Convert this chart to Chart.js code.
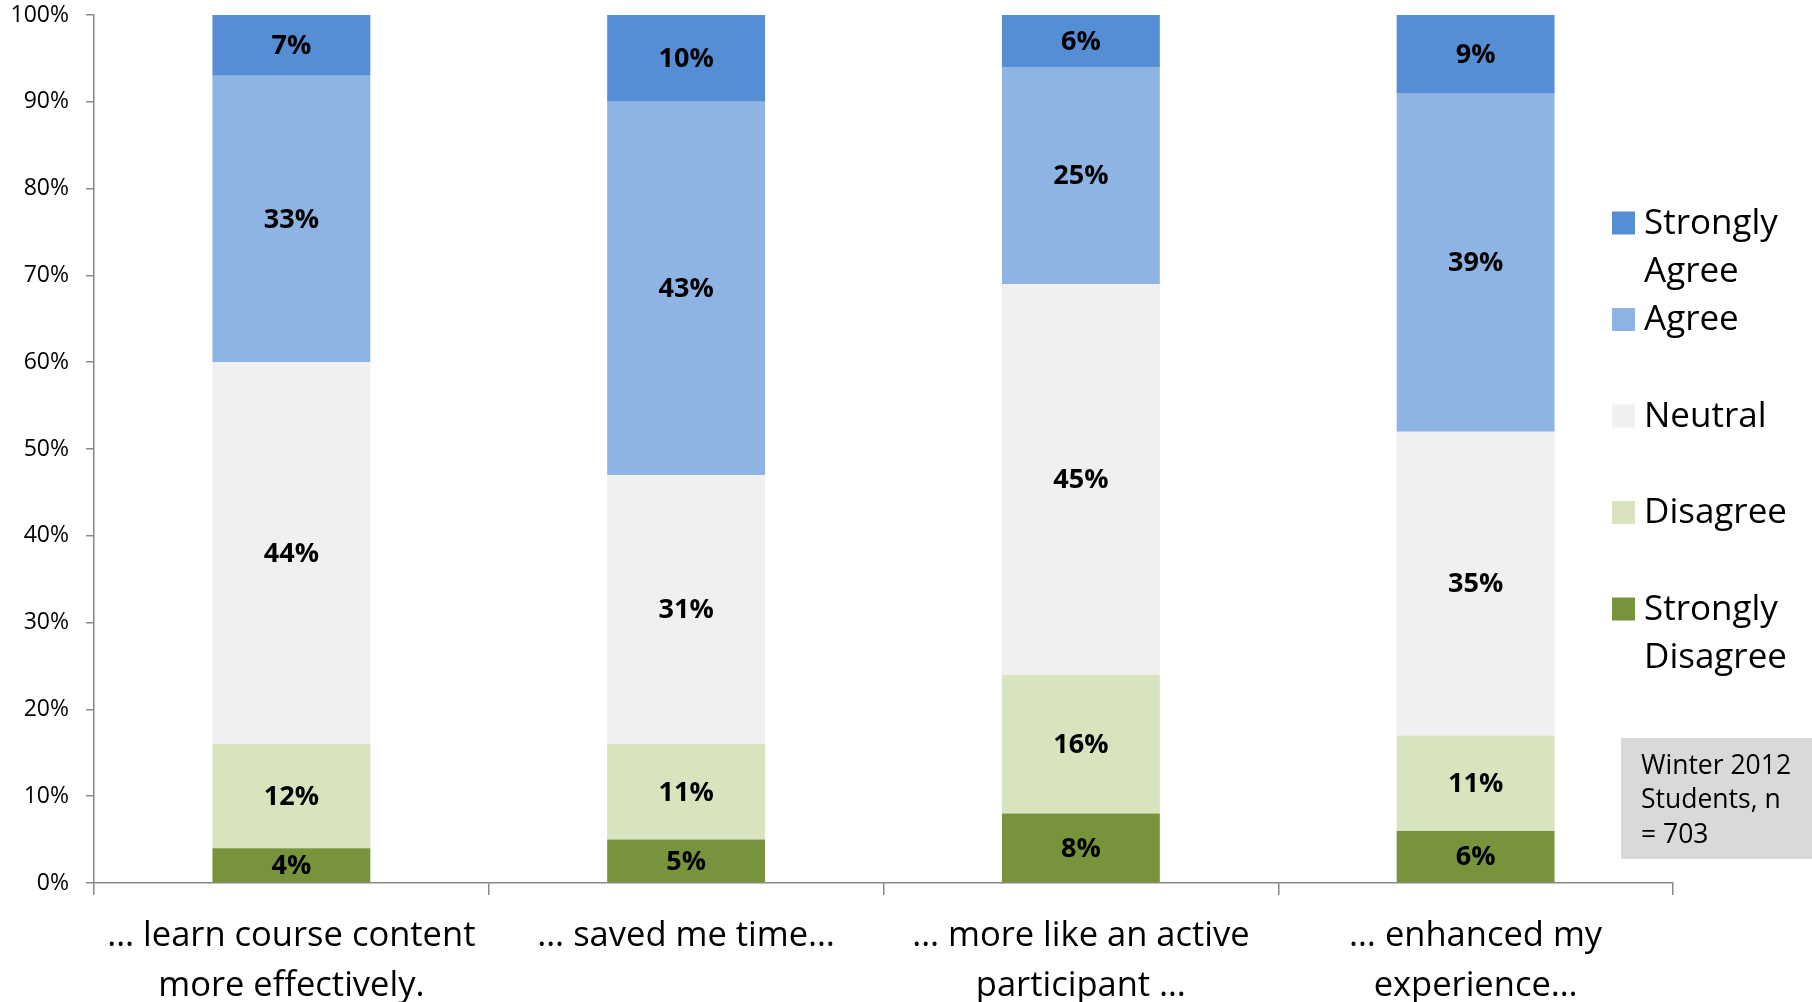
<!DOCTYPE html>
<html>
<head>
<meta charset="utf-8">
<script src="https://cdn.jsdelivr.net/npm/chart.js@4/dist/chart.umd.min.js"></script>
<style>
  html, body { margin: 0; padding: 0; background: #ffffff; }
  #wrap { width: 1812px; height: 1002px; position: relative; }
</style>
</head>
<body>
<div id="wrap"><canvas id="c" width="1812" height="1002"></canvas></div>
<script>
// Survey statements (x-axis categories, wrapped onto lines)
const categories = [
  ['… learn course content', 'more effectively.'],
  ['… saved me time…'],
  ['… more like an active', 'participant …'],
  ['… enhanced my', 'experience…']
];

// Share of responses per statement, in percent
const stronglyDisagree = [4, 5, 8, 6];
const disagree         = [12, 11, 16, 11];
const neutral          = [44, 31, 45, 35];
const agree            = [33, 43, 25, 39];
const stronglyAgree    = [7, 10, 6, 9];

const seriesNames  = ['Strongly Disagree', 'Disagree', 'Neutral', 'Agree', 'Strongly Agree'];
const seriesColors = ['#77933C', '#D7E4BD', '#F0F0F0', '#8EB4E3', '#558ED5'];
const seriesValues = [stronglyDisagree, disagree, neutral, agree, stronglyAgree];

// Y-axis tick values (percent)
const yTickValues = [0, 10, 20, 30, 40, 50, 60, 70, 80, 90, 100];

// Sample note
const noteLines = ['Winter 2012', 'Students, n', '= 703'];

const FONT = '"Open Sans", "DejaVu Sans", sans-serif';

// Percent label in the middle of every stacked segment
const segmentLabels = {
  id: 'segmentLabels',
  afterDatasetsDraw(chart) {
    const ctx = chart.ctx;
    ctx.save();
    ctx.font = 'bold 27px ' + FONT;
    ctx.fillStyle = '#000000';
    ctx.textAlign = 'center';
    ctx.textBaseline = 'middle';
    chart.data.datasets.forEach((ds, i) => {
      const meta = chart.getDatasetMeta(i);
      meta.data.forEach((bar, j) => {
        const p = bar.getProps(['x', 'y', 'base'], true);
        ctx.fillText(ds.data[j] + '%', p.x, (p.y + p.base) / 2 + 1);
      });
    });
    ctx.restore();
  }
};

// Legend on the right, top item = top of the stack
const sideLegend = {
  id: 'sideLegend',
  afterDraw(chart) {
    const ctx = chart.ctx;
    const boxX = 1612, boxSize = 23, textX = 1644;
    const firstY = 224, step = 96.5, lineH = 48, maxW = 180;
    ctx.save();
    ctx.font = '35px ' + FONT;
    ctx.textBaseline = 'middle';
    ctx.textAlign = 'left';
    const order = chart.data.datasets.map((d, i) => i).reverse();
    order.forEach((di, k) => {
      const ds = chart.data.datasets[di];
      const cy = firstY + k * step;
      ctx.fillStyle = ds.backgroundColor;
      ctx.fillRect(boxX, cy - boxSize / 2 - 1, boxSize, boxSize);
      // simple word wrap
      const words = ds.label.split(' ');
      const lines = [];
      let cur = '';
      words.forEach(w => {
        const t = cur ? cur + ' ' + w : w;
        if (cur && ctx.measureText(t).width > maxW) { lines.push(cur); cur = w; }
        else cur = t;
      });
      if (cur) lines.push(cur);
      ctx.fillStyle = '#000000';
      lines.forEach((ln, li) => ctx.fillText(ln, textX, cy + li * lineH));
    });
    ctx.restore();
  }
};

// Grey note box in the lower right corner
const noteBox = {
  id: 'noteBox',
  afterDraw(chart) {
    const ctx = chart.ctx;
    ctx.save();
    ctx.fillStyle = '#D9D9D9';
    ctx.fillRect(1621, 738, 191, 121);
    ctx.fillStyle = '#000000';
    ctx.font = '26.5px ' + FONT;
    ctx.textAlign = 'left';
    ctx.textBaseline = 'middle';
    noteLines.forEach((t, i) => ctx.fillText(t, 1641, 766 + i * 34.5));
    ctx.restore();
  }
};

const datasets = seriesNames.map((name, i) => ({
  label: name,
  data: seriesValues[i],
  backgroundColor: seriesColors[i],
  borderWidth: 0,
  barPercentage: 0.4,
  categoryPercentage: 1.0
}));

new Chart(document.getElementById('c'), {
  type: 'bar',
  data: { labels: categories, datasets },
  options: {
    responsive: false,
    animation: false,
    layout: { padding: { top: 0, right: 139, left: 0, bottom: 0 } },
    plugins: {
      legend: { display: false },
      tooltip: { enabled: false }
    },
    scales: {
      x: {
        stacked: true,
        offset: true,
        grid: {
          offset: true,
          drawOnChartArea: false,
          drawTicks: true,
          tickLength: 12,
          color: '#888888',
          lineWidth: 1.5
        },
        border: { display: true, color: '#888888', width: 1.5 },
        ticks: {
          color: '#000000',
          font: { family: FONT, size: 34.5, lineHeight: 1.45 },
          padding: 16,
          maxRotation: 0,
          autoSkip: false
        },
        afterFit(scale) { scale.height = 119; }
      },
      y: {
        stacked: true,
        min: 0,
        max: 100,
        afterBuildTicks(scale) { scale.ticks = yTickValues.map(v => ({ value: v })); },
        grid: {
          drawOnChartArea: false,
          drawTicks: true,
          tickLength: 8,
          color: '#888888',
          lineWidth: 1.5
        },
        border: { display: true, color: '#888888', width: 1.5 },
        ticks: {
          color: '#000000',
          font: { family: FONT, size: 23 },
          padding: 17,
          callback: v => v + '%'
        },
        afterFit(scale) {
          scale.width = 94;
          scale.paddingTop = 15;
          scale.paddingBottom = 0;
        }
      }
    }
  },
  plugins: [segmentLabels, sideLegend, noteBox]
});
</script>
</body>
</html>
